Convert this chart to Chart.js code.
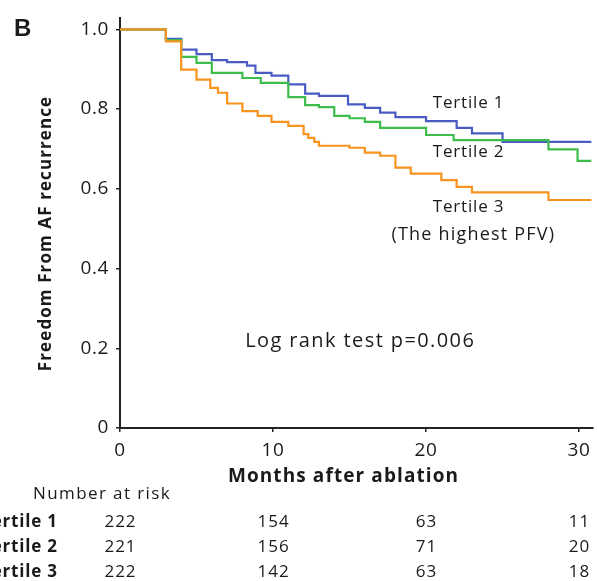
<!DOCTYPE html>
<html>
<head>
<meta charset="utf-8">
<script src="https://cdn.jsdelivr.net/npm/chart.js@4"></script>
<style>
  html, body { margin: 0; padding: 0; background: #fff; }
  #wrap { width: 597px; height: 581px; position: relative; }
</style>
</head>
<body>
<div id="wrap"><canvas id="km"></canvas></div>
<script>
// Kaplan-Meier steps: [month, survival]
const tertile1 = [[0, 1], [3, 0.976], [4, 0.949], [5, 0.938], [6, 0.923], [7, 0.918], [8.3, 0.909], [8.85, 0.891], [9.9, 0.884], [11, 0.862], [12.1, 0.839], [13, 0.833], [14.9, 0.812], [16, 0.803], [17, 0.791], [18, 0.78], [20, 0.77], [22, 0.753], [23, 0.739], [25, 0.718], [30.8, 0.718]];
const tertile2 = [[0, 1], [3, 0.973], [4, 0.931], [5, 0.916], [6, 0.891], [8, 0.878], [9.2, 0.866], [11, 0.83], [12.1, 0.81], [13, 0.805], [14, 0.783], [15, 0.777], [16, 0.768], [17, 0.753], [20, 0.735], [21.8, 0.722], [28, 0.699], [29.9, 0.67], [30.8, 0.67]];
const tertile3 = [[0, 1], [3, 0.97], [4, 0.899], [5, 0.874], [5.9, 0.853], [6.4, 0.841], [7, 0.814], [8, 0.795], [9, 0.783], [9.9, 0.768], [11, 0.758], [12, 0.737], [12.3, 0.728], [12.7, 0.718], [13, 0.708], [15, 0.703], [16, 0.691], [17, 0.683], [18, 0.653], [19, 0.638], [21, 0.622], [22, 0.605], [23, 0.591], [28, 0.572], [30.8, 0.572]];

const seriesNames = ["Tertile 1", "Tertile 2", "Tertile 3"];
const xTicks = [0, 10, 20, 30];
const yTicks = [0, 0.2, 0.4, 0.6, 0.8, 1.0];
const riskTimes = [0, 10, 20, 30];
const riskTertile1 = [222, 154, 63, 11];
const riskTertile2 = [221, 156, 71, 20];
const riskTertile3 = [222, 142, 63, 18];

const FONT = '"Open Sans", "Noto Sans", sans-serif';
const BLUE = "#4a5cc4";
const GREEN = "#3dbd4b";
const ORANGE = "#f7941e";
const AXIS = "#222222";
const TEXT = "#1a1a1a";

function toPoints(rows) {
  return rows.map(([x, y]) => ({ x, y }));
}

function spacedText(ctx, text, x, y, font, spacing, align) {
  ctx.font = font;
  ctx.letterSpacing = `${spacing}px`;
  ctx.textAlign = align;
  // letterSpacing adds a trailing gap; shift so the glyphs stay centred/right-aligned
  const shift = align === "center" ? spacing / 2 : align === "right" ? spacing : 0;
  ctx.fillText(text, x + shift, y);
}

// slightly wider tick labels, like the source figure's font
const tickSpacingPlugin = {
  id: "tickSpacing",
  beforeDraw(chart) {
    chart.ctx.letterSpacing = "0.6px";
  },
  beforeDatasetsDraw(chart) {
    chart.ctx.letterSpacing = "0px";
  },
};

const annotationsPlugin = {
  id: "kmAnnotations",
  afterDraw(chart) {
    const { ctx } = chart;
    const xs = chart.scales.x;
    const ys = chart.scales.y;

    ctx.save();
    ctx.fillStyle = TEXT;
    ctx.textBaseline = "middle";

    // panel letter
    spacedText(ctx, "B", 14, 29, "bold 24px Arial, 'Liberation Sans', sans-serif", 0, "left");

    // y axis title
    ctx.save();
    ctx.translate(46, 234);
    ctx.rotate(-Math.PI / 2);
    spacedText(ctx, "Freedom From AF recurrence", 0, 0, `bold 17px ${FONT}`, 1.1, "center");
    ctx.restore();

    // x axis title
    spacedText(ctx, "Months after ablation", 343, 477, `bold 19px ${FONT}`, 1.1, "center");

    // curve labels
    const labelFont = `17px ${FONT}`;
    spacedText(ctx, "Tertile 1", xs.getPixelForValue(22.75), ys.getPixelForValue(0.815), labelFont, 0.8, "center");
    spacedText(ctx, "Tertile 2", xs.getPixelForValue(22.75), ys.getPixelForValue(0.693), labelFont, 0.8, "center");
    spacedText(ctx, "Tertile 3", xs.getPixelForValue(22.75), ys.getPixelForValue(0.555), labelFont, 0.8, "center");
    spacedText(ctx, "(The highest PFV)", xs.getPixelForValue(23.05), ys.getPixelForValue(0.485), `18px ${FONT}`, 1.2, "center");

    spacedText(ctx, "Log rank test p=0.006", xs.getPixelForValue(15.65), ys.getPixelForValue(0.218), `20px ${FONT}`, 1.4, "center");

    // number at risk table
    spacedText(ctx, "Number at risk", 33, 494, `17px ${FONT}`, 1.4, "left");

    const rows = [riskTertile1, riskTertile2, riskTertile3];
    const rowY = [522, 547, 572];
    rows.forEach((row, i) => {
      spacedText(ctx, seriesNames[i], 57, rowY[i], `bold 17px ${FONT}`, 0.8, "right");
      row.forEach((n, j) => {
        spacedText(ctx, String(n), xs.getPixelForValue(riskTimes[j]), rowY[i], `17px ${FONT}`, 1.0, "center");
      });
    });
    ctx.restore();
  },
};

const lineStyle = {
  stepped: "before",
  fill: false,
  borderWidth: 2.2,
  pointRadius: 0,
  pointHoverRadius: 0,
};

new Chart(document.getElementById("km"), {
  type: "line",
  plugins: [tickSpacingPlugin, annotationsPlugin],
  data: {
    datasets: [
      { ...lineStyle, label: seriesNames[0], data: toPoints(tertile1), borderColor: BLUE, order: 2 },
      { ...lineStyle, label: seriesNames[1], data: toPoints(tertile2), borderColor: GREEN, order: 1 },
      { ...lineStyle, label: seriesNames[2], data: toPoints(tertile3), borderColor: ORANGE, order: 0 },
    ],
  },
  options: {
    responsive: true,
    maintainAspectRatio: false,
    animation: false,
    layout: {
      padding: { top: 17, right: 2, bottom: 94, left: 0 },
    },
    plugins: {
      legend: { display: false },
      tooltip: { enabled: false },
    },
    scales: {
      x: {
        type: "linear",
        min: 0,
        max: 30.9,
        afterBuildTicks(scale) {
          scale.ticks = xTicks.map((value) => ({ value }));
        },
        afterFit(scale) {
          scale.height = 59;
        },
        grid: {
          drawOnChartArea: false,
          drawTicks: true,
          tickLength: 4,
          color: AXIS,
          lineWidth: 1.5,
        },
        border: { display: true, color: AXIS, width: 2 },
        ticks: {
          color: TEXT,
          font: { family: FONT, size: 19 },
          padding: 7,
          maxRotation: 0,
          callback(value) {
            return String(value);
          },
        },
      },
      y: {
        type: "linear",
        min: 0,
        max: 1.0275,
        afterBuildTicks(scale) {
          scale.ticks = yTicks.map((value) => ({ value }));
        },
        afterFit(scale) {
          scale.width = 120;
        },
        grid: {
          drawOnChartArea: false,
          drawTicks: true,
          tickLength: 4,
          color: AXIS,
          lineWidth: 1.5,
        },
        border: { display: true, color: AXIS, width: 2 },
        ticks: {
          color: TEXT,
          font: { family: FONT, size: 19 },
          padding: 7,
          callback(value) {
            return value === 0 ? "0" : value.toFixed(1);
          },
        },
      },
    },
  },
});
</script>
</body>
</html>
